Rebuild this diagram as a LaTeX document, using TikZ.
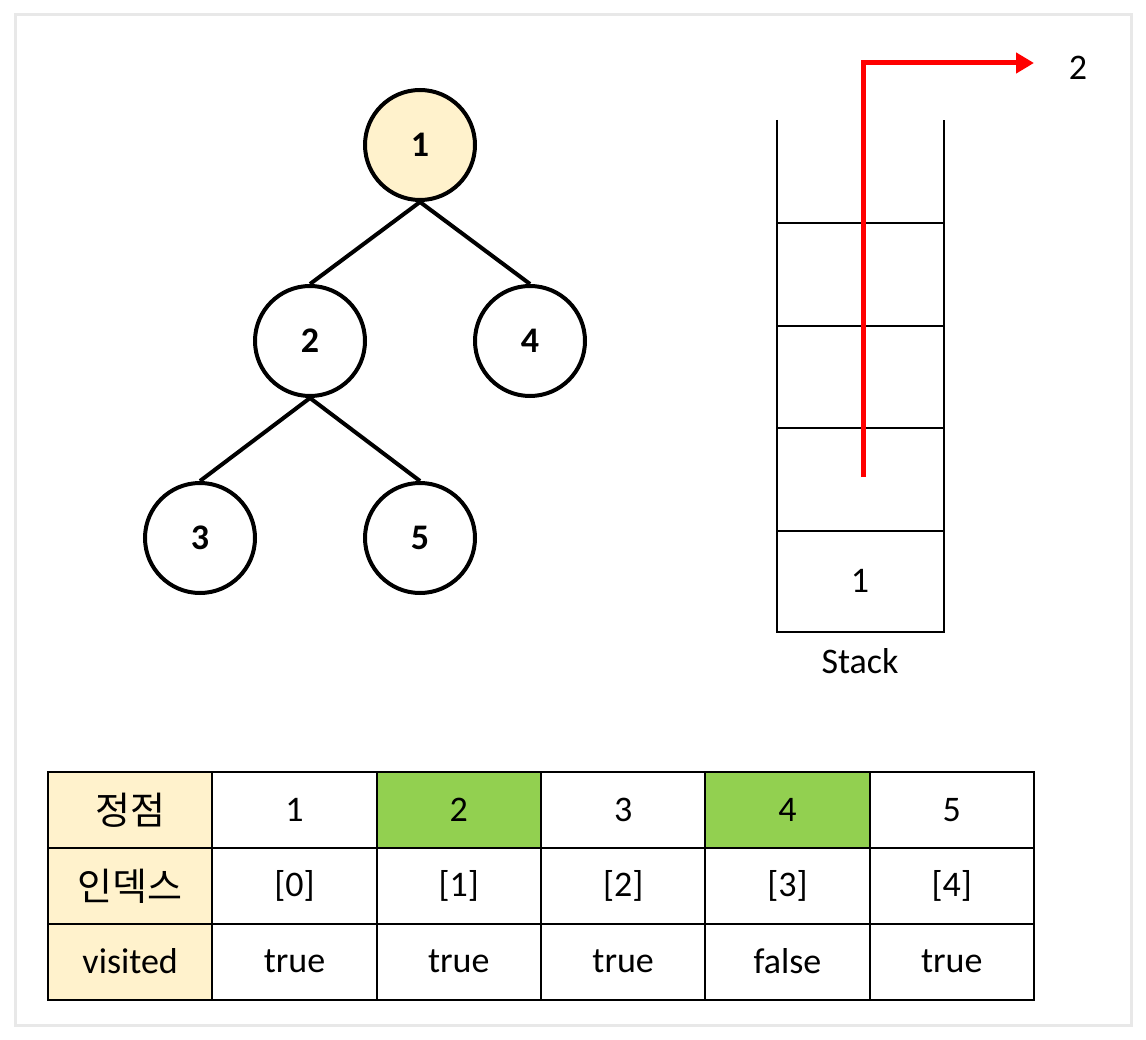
\documentclass[tikz,border=0pt]{standalone}
\usepackage{fontspec}
\setmainfont{Carlito}
\newfontfamily\kr{Noto Sans CJK KR}
\usetikzlibrary{arrows.meta}
\definecolor{lyellow}{HTML}{FFF2CC}
\definecolor{lgreen}{HTML}{92D050}
\definecolor{cardline}{HTML}{E8E8E8}
\begin{document}
\begin{tikzpicture}[x=1pt,y=-1pt,
  vert/.style={circle, draw, line width=4pt, minimum size=110pt, inner sep=0pt,
    font=\fontsize{36}{36}\bfseries\selectfont},
  edge/.style={line width=4pt},
  stackline/.style={line width=2pt},
  cell/.style={draw, line width=2pt, minimum width=164.33pt, minimum height=76pt,
    inner sep=0pt, font=\fontsize{36}{36}\selectfont},
  krcell/.style={cell, fill=lyellow, font=\fontsize{38}{38}\kr\selectfont},
  lbl/.style={inner sep=0pt, font=\fontsize{36}{36}\selectfont}]
\useasboundingbox (0,0) rectangle (1146,1040);
\fill[white] (0,0) rectangle (1146,1040);
\draw[cardline, line width=3pt, fill=white] (15,15) rectangle (1131,1025);

% tree
\node[vert, fill=lyellow] (n1) at (420,145) {1};
\node[vert] (n2) at (310,341) {2};
\node[vert] (n4) at (530,341) {4};
\node[vert] (n3) at (200,538) {3};
\node[vert] (n5) at (420,538) {5};
\draw[edge] (n1.south) -- (n2.north);
\draw[edge] (n1.south) -- (n4.north);
\draw[edge] (n2.south) -- (n3.north);
\draw[edge] (n2.south) -- (n5.north);

% stack
\draw[stackline] (777,120) -- (777,632) -- (944,632) -- (944,120);
\foreach \yy in {223,326,428,531} \draw[stackline] (777,\yy) -- (944,\yy);
\node[lbl] (s1) at (860,581) {1};
\node[lbl] (stk) at (860,661) {Stack};

% red arrow
\coordinate (rs) at (863,477);
\coordinate (re) at (1034,63);
\node[lbl] (two) at (1078,68) {2};
\draw[red, line width=5pt, line join=miter, -{Triangle[length=18pt,width=20pt]}] (rs) |- (re);

% table
\foreach \r/\yy in {1/810,2/886,3/961.5}{
  \foreach \c in {0,...,5}{
    \coordinate (p\r\c) at ({48+164.33*(\c+0.5)},\yy);
  }
}
\node[krcell] (h1) at (p10) {정점};
\node[krcell] (h2) at (p20) {인덱스};
\node[cell, fill=lyellow] (h3) at (p30) {visited};
\node[cell] (v1) at (p11) {1};
\node[cell, fill=lgreen] (v2) at (p12) {2};
\node[cell] (v3) at (p13) {3};
\node[cell, fill=lgreen] (v4) at (p14) {4};
\node[cell] (v5) at (p15) {5};
\node[cell] (i1) at (p21) {[0]};
\node[cell] (i2) at (p22) {[1]};
\node[cell] (i3) at (p23) {[2]};
\node[cell] (i4) at (p24) {[3]};
\node[cell] (i5) at (p25) {[4]};
\node[cell] (b1) at (p31) {true};
\node[cell] (b2) at (p32) {true};
\node[cell] (b3) at (p33) {true};
\node[cell] (b4) at (p34) {false};
\node[cell] (b5) at (p35) {true};
\end{tikzpicture}
\end{document}
